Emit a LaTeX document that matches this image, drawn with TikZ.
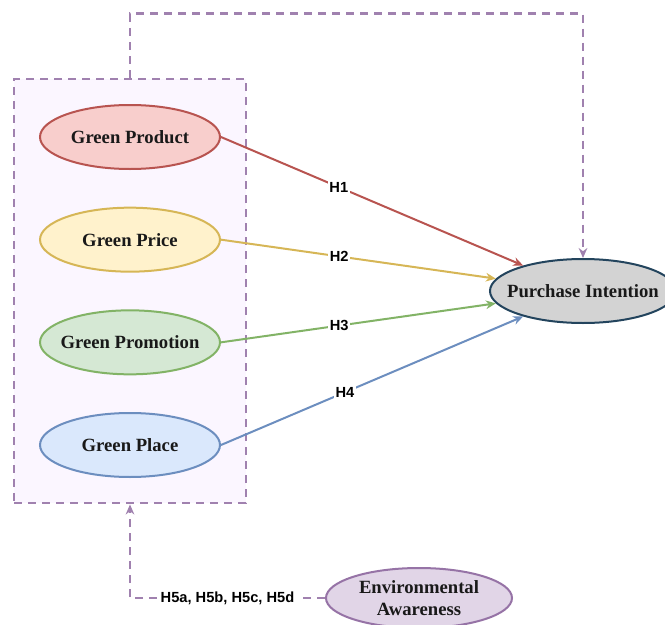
\documentclass[tikz,border=0pt]{standalone}
\usepackage{fontspec}
\setmainfont{Liberation Serif}
\setsansfont{Liberation Sans}
\usepackage{xcolor}
\usetikzlibrary{arrows.meta, positioning, shapes.geometric, fit, backgrounds}

\definecolor{prodfill}{HTML}{F8CECC}
\definecolor{prodline}{HTML}{B85450}
\definecolor{pricefill}{HTML}{FFF2CC}
\definecolor{priceline}{HTML}{D6B656}
\definecolor{promofill}{HTML}{D5E8D4}
\definecolor{promoline}{HTML}{82B366}
\definecolor{placefill}{HTML}{DAE8FC}
\definecolor{placeline}{HTML}{6C8EBF}
\definecolor{intentfill}{HTML}{D3D3D3}
\definecolor{intentline}{HTML}{23445D}
\definecolor{awarefill}{HTML}{E1D5E7}
\definecolor{awareline}{HTML}{9673A6}
\definecolor{groupfill}{HTML}{FBF6FF}

\begin{document}
\begin{tikzpicture}[
    x=0.75pt, y=-0.75pt,
    node distance=27.5pt,
    construct/.style={ellipse, draw, line width=1.5pt, minimum width=135pt, minimum height=48pt, inner xsep=-14pt, inner ysep=-6pt, align=center, text=black!90, font=\fontsize{14}{17}\selectfont\bfseries},
    groupbox/.style={rectangle, draw=awareline!90, fill=groupfill, line width=1.7pt, dash pattern=on 6pt off 4.5pt, inner xsep=18.5pt, inner ysep=19pt},
    hyparrow/.style={-{Stealth[length=7.5pt, width=6.5pt]}, line width=1.5pt},
    modarrow/.style={-{Stealth[length=7.5pt, width=6.5pt]}, line width=1.7pt, draw=awareline!90, dash pattern=on 6pt off 4.5pt},
    hyp/.style={fill=white, inner sep=1pt, text=black, font=\sffamily\bfseries\fontsize{11}{13}\selectfont},
]
\useasboundingbox (0,0) rectangle (665,625);

\node[construct, fill=prodfill, draw=prodline] (product) at (130,137) {Green Product};
\node[construct, fill=pricefill, draw=priceline, below=of product] (price) {Green Price};
\node[construct, fill=promofill, draw=promoline, below=of price] (promotion) {Green Promotion};
\node[construct, fill=placefill, draw=placeline, below=of promotion] (place) {Green Place};
\node[construct, fill=intentfill, draw=intentline, minimum width=139.5pt] (intention) at (583,291) {Purchase Intention};
\node[construct, fill=awarefill, draw=awareline, minimum width=139.5pt, minimum height=45pt] (aware) at (419,598) {Environmental\\Awareness};

\begin{scope}[on background layer]
\node[groupbox, fit=(product)(place)] (group) {};
\end{scope}

\draw[hyparrow, prodline]  (product.east)   -- node[hyp, pos=0.39]{H1} (intention);
\draw[hyparrow, priceline] (price.east)     -- node[hyp, pos=0.43]{H2} (intention);
\draw[hyparrow, promoline] (promotion.east) -- node[hyp, pos=0.43]{H3} (intention);
\draw[hyparrow, placeline] (place.east)     -- node[hyp, pos=0.41]{H4} (intention);

\draw[modarrow] (group.north) -- ++(0,-64) -| (intention.north);
\draw[modarrow] (aware.west) -| node[hyp, pos=0.25, inner xsep=3pt]{H5a, H5b, H5c, H5d} (group.south);

\end{tikzpicture}
\end{document}
